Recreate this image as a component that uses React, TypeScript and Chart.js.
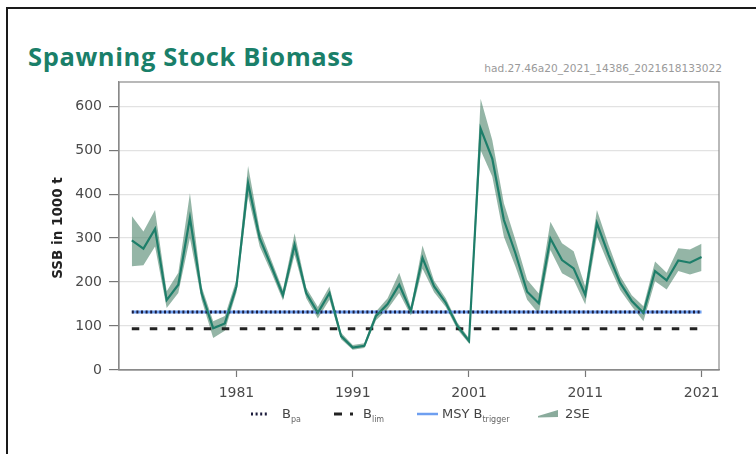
import React, { useEffect, useRef } from "react";
import { Chart, registerables } from "chart.js";

Chart.register(...registerables);

const years = [
  1972, 1973, 1974, 1975, 1976, 1977, 1978, 1979, 1980, 1981,
  1982, 1983, 1984, 1985, 1986, 1987, 1988, 1989, 1990, 1991,
  1992, 1993, 1994, 1995, 1996, 1997, 1998, 1999, 2000, 2001,
  2002, 2003, 2004, 2005, 2006, 2007, 2008, 2009, 2010, 2011,
  2012, 2013, 2014, 2015, 2016, 2017, 2018, 2019, 2020, 2021,
];

const ssb = [
  295, 276, 321, 159, 194, 346, 175, 95, 106, 190,
  425, 300, 236, 170, 285, 175, 130, 175, 77, 51,
  55, 123, 150, 194, 134, 255, 190, 153, 100, 66,
  549, 481, 341, 265, 178, 152, 299, 250, 231, 171,
  334, 262, 198, 157, 130, 225, 204, 249, 244, 257,
];

const ssbHigh = [
  350, 315, 364, 179, 221, 402, 190, 111, 123, 205,
  464, 319, 250, 182, 311, 187, 143, 190, 85, 57,
  61, 133, 163, 221, 143, 283, 203, 163, 108, 72,
  617, 523, 379, 295, 205, 174, 337, 288, 270, 190,
  364, 285, 214, 170, 145, 247, 221, 277, 274, 287,
];

const ssbLow = [
  236, 238, 281, 141, 175, 300, 160, 73, 89, 176,
  395, 281, 222, 158, 262, 163, 117, 160, 70, 46,
  50, 113, 138, 175, 124, 230, 177, 143, 92, 60,
  500, 440, 303, 235, 160, 128, 273, 220, 205, 149,
  304, 240, 182, 145, 111, 202, 183, 225, 217, 225,
];

const Bpa = 132;
const Blim = 94;
const MSYBtrigger = 132;

const xTicks = [1981, 1991, 2001, 2011, 2021];
const yTicks = [0, 100, 200, 300, 400, 500, 600];

const TITLE = "Spawning Stock Biomass";
const SUBTITLE = "had.27.46a20_2021_14386_2021618133022";
const Y_TITLE = "SSB in 1000 t";

const pts = (vals: number[]) => years.map((y, i) => ({ x: y, y: vals[i] }));
const flat = (v: number) => years.map((y) => ({ x: y, y: v }));

const frame = {
  id: "frame",
  afterDraw(chart: any) {
    const { ctx, chartArea: a } = chart;
    ctx.save();
    ctx.strokeStyle = "#8a8a8a";
    ctx.lineWidth = 1.2;
    ctx.strokeRect(a.left, a.top, a.right - a.left, a.bottom - a.top);
    ctx.restore();
  },
};

export default function App() {
  const ref = useRef<HTMLCanvasElement>(null);

  useEffect(() => {
    if (!ref.current) return;
    const chart = new Chart(ref.current, {
      type: "line",
      data: {
        datasets: [
          {
            label: "SSB",
            data: pts(ssb),
            borderColor: "#1e7e6a",
            borderWidth: 2.2,
            pointRadius: 0,
            fill: false,
          },
          {
            label: "Bpa",
            data: flat(Bpa),
            borderColor: "#1c1c3c",
            borderWidth: 3,
            borderDash: [2, 2.6],
            pointRadius: 0,
            fill: false,
          },
          {
            label: "MSY Btrigger",
            data: flat(MSYBtrigger),
            borderColor: "#6e9ff0",
            borderWidth: 3,
            pointRadius: 0,
            fill: false,
          },
          {
            label: "Blim",
            data: flat(Blim),
            borderColor: "#222222",
            borderWidth: 3,
            borderDash: [7.5, 10.5],
            pointRadius: 0,
            fill: false,
          },
          {
            label: "2SE",
            data: pts(ssbHigh),
            borderColor: "rgba(0,0,0,0)",
            borderWidth: 0,
            pointRadius: 0,
            backgroundColor: "rgba(82,136,112,0.62)",
            fill: "+1",
          },
          {
            label: "2SE low",
            data: pts(ssbLow),
            borderColor: "rgba(0,0,0,0)",
            borderWidth: 0,
            pointRadius: 0,
            fill: false,
          },
        ],
      },
      options: {
        responsive: false,
        animation: false,
        layout: { padding: { top: 82, right: 37, left: 0, bottom: 0 } },
        plugins: {
          legend: { display: false },
          tooltip: { enabled: false },
        },
        scales: {
          x: {
            type: "linear",
            min: 1970.9,
            max: 2022.5,
            afterBuildTicks: (s: any) => {
              s.ticks = xTicks.map((v) => ({ value: v }));
            },
            afterFit: (s: any) => {
              s.height = 30;
            },
            ticks: {
              callback: (v: any) => String(v),
              font: { family: "DejaVu Sans", size: 14 },
              color: "#4a4a4a",
              padding: 8,
              maxRotation: 0,
            },
            grid: {
              drawOnChartArea: false,
              tickLength: 7,
              tickColor: "#777",
              tickWidth: 1.2,
            },
            border: { color: "#8a8a8a", width: 1.2 },
          },
          y: {
            min: 0,
            max: 655,
            afterBuildTicks: (s: any) => {
              s.ticks = yTicks.map((v) => ({ value: v }));
            },
            afterFit: (s: any) => {
              s.width = 119;
            },
            ticks: {
              font: { family: "DejaVu Sans", size: 14 },
              color: "#4a4a4a",
              padding: 7,
            },
            grid: {
              color: "#e2e2e2",
              lineWidth: 1.2,
              tickLength: 10,
              tickColor: "#777",
              tickWidth: 1.2,
            },
            border: { color: "#8a8a8a", width: 1.2 },
          },
        },
      },
      plugins: [frame],
    } as any);
    return () => chart.destroy();
  }, []);

  const legendText: React.CSSProperties = {
    position: "absolute",
    top: 406,
    lineHeight: "15px",
    whiteSpace: "nowrap",
  };
  const sub: React.CSSProperties = { fontSize: 8, verticalAlign: "-4px", color: "#666" };

  return (
    <div
      style={{
        position: "absolute",
        left: 0,
        top: 0,
        width: 756,
        height: 454,
        overflow: "hidden",
        background: "#fff",
      }}
    >
      <div
        style={{
          position: "absolute",
          left: 6,
          top: 7,
          width: 800,
          height: 500,
          borderLeft: "2px solid #1a1a1a",
          borderTop: "2px solid #1a1a1a",
        }}
      />
      <div
        style={{
          position: "absolute",
          left: 28,
          top: 39,
          fontFamily: "Open Sans",
          fontWeight: 700,
          fontSize: 25.5,
          letterSpacing: 0.6,
          color: "#1a7f69",
          lineHeight: "34px",
          whiteSpace: "nowrap",
        }}
      >
        {TITLE}
      </div>
      <div
        style={{
          position: "absolute",
          right: 34,
          top: 62,
          fontFamily: "DejaVu Sans",
          fontSize: 10.6,
          color: "#9a9a9a",
          lineHeight: "12px",
          whiteSpace: "nowrap",
        }}
      >
        {SUBTITLE}
      </div>
      <canvas
        ref={ref}
        width={756}
        height={400}
        style={{ position: "absolute", left: 0, top: 0, width: 756, height: 400 }}
      />
      <div
        style={{
          position: "absolute",
          left: 57,
          top: 228,
          transform: "translate(-50%, -50%) rotate(-90deg)",
          fontFamily: "DejaVu Sans",
          fontWeight: 700,
          fontSize: 13.5,
          letterSpacing: 0,
          color: "#222",
          lineHeight: "16px",
          whiteSpace: "nowrap",
        }}
      >
        {Y_TITLE}
      </div>
      <div
        style={{
          position: "absolute",
          left: 0,
          top: 0,
          width: 756,
          height: 454,
          fontFamily: "DejaVu Sans",
          fontSize: 13,
          color: "#444",
        }}
      >
        <svg style={{ position: "absolute", left: 251, top: 411 }} width={17} height={6}>
          <line x1={0} y1={3} x2={17} y2={3} stroke="#1c1c3c" strokeWidth={3} strokeDasharray="2 2.6" />
        </svg>
        <span style={{ ...legendText, left: 282 }}>
          B<span style={sub}>pa</span>
        </span>
        <svg style={{ position: "absolute", left: 334, top: 411 }} width={22} height={6}>
          <line x1={0} y1={3} x2={8} y2={3} stroke="#222" strokeWidth={3} />
          <rect x={16} y={1.5} width={3} height={3} fill="#222" />
        </svg>
        <span style={{ ...legendText, left: 363 }}>
          B<span style={sub}>lim</span>
        </span>
        <svg style={{ position: "absolute", left: 417, top: 411 }} width={21} height={6}>
          <line x1={0} y1={3} x2={21} y2={3} stroke="#6e9ff0" strokeWidth={2.5} />
        </svg>
        <span style={{ ...legendText, left: 442 }}>
          MSY B<span style={sub}>trigger</span>
        </span>
        <svg style={{ position: "absolute", left: 538, top: 409 }} width={20} height={9}>
          <polygon points="0,7 20,1 20,8 0,8.5" fill="#8aab9c" />
        </svg>
        <span style={{ ...legendText, left: 565 }}>2SE</span>
      </div>
    </div>
  );
}
